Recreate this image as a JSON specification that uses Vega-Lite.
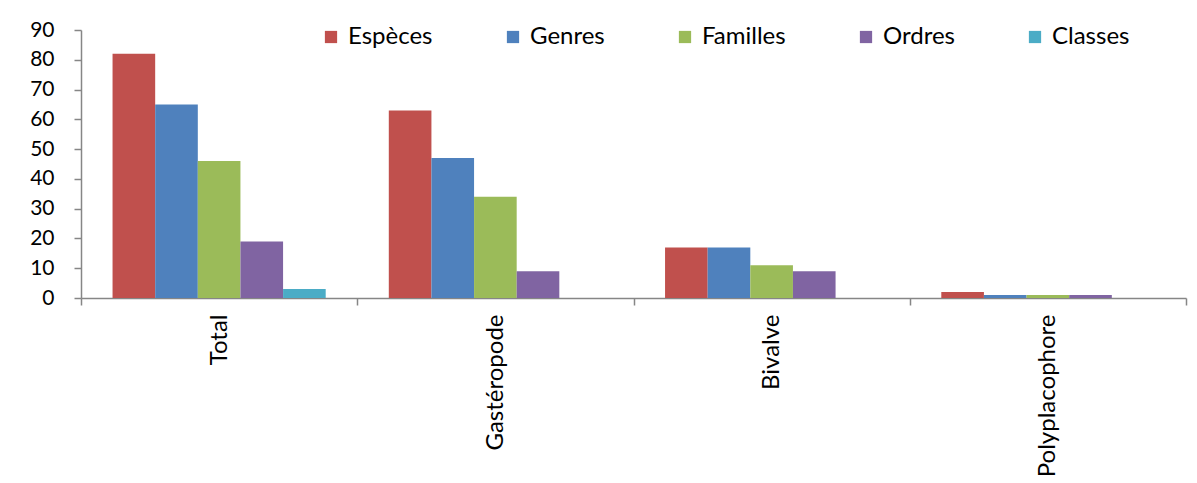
{
  "$schema": "https://vega.github.io/schema/vega-lite/v6.json",
  "width": 1105,
  "height": 268,
  "padding": {"left": 29, "top": 19, "right": 5, "bottom": 5},
  "background": "white",
  "config": {"view": {"stroke": null}, "font": "Lato"},
  "data": {
    "values": [
      {"groupe": "Total", "serie": "Espèces", "valeur": 82},
      {"groupe": "Total", "serie": "Genres", "valeur": 65},
      {"groupe": "Total", "serie": "Familles", "valeur": 46},
      {"groupe": "Total", "serie": "Ordres", "valeur": 19},
      {"groupe": "Total", "serie": "Classes", "valeur": 3},
      {"groupe": "Gastéropode", "serie": "Espèces", "valeur": 63},
      {"groupe": "Gastéropode", "serie": "Genres", "valeur": 47},
      {"groupe": "Gastéropode", "serie": "Familles", "valeur": 34},
      {"groupe": "Gastéropode", "serie": "Ordres", "valeur": 9},
      {"groupe": "Gastéropode", "serie": "Classes", "valeur": 0},
      {"groupe": "Bivalve", "serie": "Espèces", "valeur": 17},
      {"groupe": "Bivalve", "serie": "Genres", "valeur": 17},
      {"groupe": "Bivalve", "serie": "Familles", "valeur": 11},
      {"groupe": "Bivalve", "serie": "Ordres", "valeur": 9},
      {"groupe": "Bivalve", "serie": "Classes", "valeur": 0},
      {"groupe": "Polyplacophore", "serie": "Espèces", "valeur": 2},
      {"groupe": "Polyplacophore", "serie": "Genres", "valeur": 1},
      {"groupe": "Polyplacophore", "serie": "Familles", "valeur": 1},
      {"groupe": "Polyplacophore", "serie": "Ordres", "valeur": 1},
      {"groupe": "Polyplacophore", "serie": "Classes", "valeur": 0}
    ]
  },
  "mark": {"type": "bar"},
  "encoding": {
    "x": {
      "field": "groupe",
      "type": "nominal",
      "sort": ["Total", "Gastéropode", "Bivalve", "Polyplacophore"],
      "scale": {"paddingInner": 0, "paddingOuter": 0},
      "axis": {
        "title": null,
        "labelAngle": -90,
        "tickBand": "extent",
        "labelFontSize": 24,
        "labelColor": "black",
        "labelPadding": 9,
        "tickSize": 7,
        "domainColor": "#868686",
        "tickColor": "#868686",
        "domainWidth": 1.5,
        "tickWidth": 1.5
      }
    },
    "xOffset": {
      "field": "serie",
      "type": "nominal",
      "sort": ["Espèces", "Genres", "Familles", "Ordres", "Classes"],
      "scale": {"paddingInner": 0, "paddingOuter": 0.74}
    },
    "y": {
      "field": "valeur",
      "type": "quantitative",
      "scale": {"domain": [0, 90], "nice": false},
      "axis": {
        "title": null,
        "grid": false,
        "values": [0, 10, 20, 30, 40, 50, 60, 70, 80, 90],
        "labelFontSize": 21,
        "labelColor": "black",
        "labelPadding": 20,
        "tickSize": 7,
        "domainColor": "#868686",
        "tickColor": "#868686",
        "domainWidth": 1.5,
        "tickWidth": 1.5
      }
    },
    "color": {
      "field": "serie",
      "type": "nominal",
      "sort": ["Espèces", "Genres", "Familles", "Ordres", "Classes"],
      "scale": {
        "domain": ["Espèces", "Genres", "Familles", "Ordres", "Classes"],
        "range": ["#C0504D", "#4F81BD", "#9BBB59", "#8064A2", "#4BACC6"]
      },
      "legend": {
        "title": null,
        "orient": "none",
        "legendX": 238,
        "legendY": -5,
        "direction": "horizontal",
        "symbolType": "square",
        "symbolSize": 150,
        "symbolStrokeWidth": 0,
        "labelFontSize": 24,
        "labelColor": "black",
        "labelOffset": 5,
        "columnPadding": 68
      }
    }
  }
}
